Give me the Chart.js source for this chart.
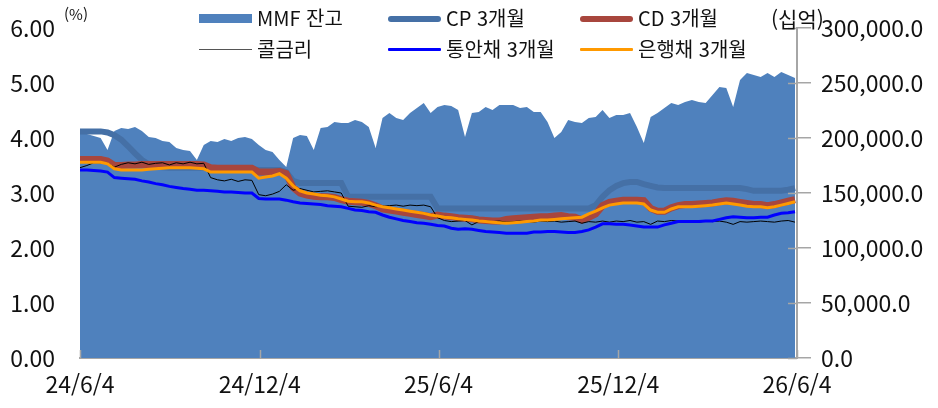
<!DOCTYPE html>
<html lang="ko">
<head>
<meta charset="utf-8">
<script src="https://cdn.jsdelivr.net/npm/chart.js@4.4.1/dist/chart.umd.min.js"></script>
<style>
  html, body { margin: 0; padding: 0; background: #fff; }
  #wrap { position: relative; width: 938px; height: 408px; }
  canvas { position: absolute; left: 0; top: 0; }
  .lg { position: absolute; font-family: 'Noto Sans CJK KR', sans-serif; font-size: 20px; color: #111; line-height: 1; white-space: nowrap; }
  .sw { position: absolute; }
</style>
</head>
<body>
<div id="wrap">
  <canvas id="c" width="938" height="408"></canvas>
  <div id="legend"></div>
  <div class="lg" style="left:64px;top:6px;font-size:15px;">(%)</div>
  <div class="lg" style="left:771px;top:8px;font-size:21px;">(십억)</div>
</div>
<script>
// weekly observations starting 2024-06-04
const startDate = '2024-06-04';
const weeks = 105;

const tickDates = ['2024-06-04', '2024-12-04', '2025-06-04', '2025-12-04', '2026-06-04'];
const tickLabels = ['24/6/4', '24/12/4', '25/6/4', '25/12/4', '26/6/4'];

const seriesNames = ['MMF 잔고', 'CP 3개월', 'CD 3개월', '콜금리', '통안채 3개월', '은행채 3개월'];

// MMF balance (십억)
const mmf = [
  206000, 203600, 201800, 200000, 189100, 206400, 209100, 208200, 210000, 206400,
  200900, 200000, 197300, 196400, 190900, 189100, 188200, 180000, 193600, 197300,
  196400, 199100, 197300, 200000, 200900, 199100, 193600, 189100, 187300, 180000,
  173600, 200000, 202700, 201800, 189100, 209100, 210000, 214500, 213600, 213600,
  216400, 214500, 210000, 190900, 218200, 222700, 218200, 216400, 222700, 227300,
  231800, 222700, 228200, 230000, 229100, 225500, 200900, 222700, 223600, 228200,
  225500, 230000, 230000, 230000, 227300, 228200, 223600, 223600, 214500, 200000,
  205500, 216400, 214500, 213600, 218200, 219100, 225500, 218200, 220900, 220900,
  222700, 210000, 195500, 219100, 222700, 227300, 231800, 230000, 232700, 234500,
  232700, 231800, 239100, 246400, 245500, 228200, 252700, 259100, 257300, 255500,
  259100, 255500, 260000, 257300, 254500
];

// rates (%)
const cp = [
  4.12, 4.12, 4.12, 4.12, 4.10, 4.05, 3.97, 3.85, 3.72, 3.60,
  3.52, 3.48, 3.47, 3.46, 3.46, 3.46, 3.46, 3.46, 3.46, 3.44,
  3.43, 3.43, 3.43, 3.43, 3.43, 3.43, 3.42, 3.42, 3.42, 3.42,
  3.38, 3.22, 3.18, 3.18, 3.18, 3.18, 3.18, 3.18, 3.18, 2.93,
  2.93, 2.93, 2.93, 2.93, 2.93, 2.93, 2.93, 2.93, 2.93, 2.93,
  2.93, 2.93, 2.72, 2.72, 2.72, 2.72, 2.72, 2.72, 2.72, 2.72,
  2.72, 2.72, 2.72, 2.72, 2.72, 2.72, 2.72, 2.72, 2.72, 2.72,
  2.72, 2.72, 2.72, 2.72, 2.72, 2.78, 2.93, 3.05, 3.13, 3.18,
  3.20, 3.20, 3.16, 3.13, 3.10, 3.09, 3.09, 3.09, 3.09, 3.09,
  3.09, 3.09, 3.09, 3.09, 3.09, 3.09, 3.09, 3.07, 3.04, 3.04,
  3.04, 3.04, 3.04, 3.06, 3.09
];

const cd = [
  3.61, 3.61, 3.61, 3.61, 3.58, 3.50, 3.50, 3.51, 3.51, 3.52,
  3.52, 3.52, 3.52, 3.52, 3.52, 3.52, 3.52, 3.52, 3.51, 3.46,
  3.45, 3.45, 3.45, 3.45, 3.45, 3.45, 3.38, 3.38, 3.38, 3.39,
  3.35, 3.10, 3.00, 2.96, 2.94, 2.93, 2.93, 2.92, 2.88, 2.85,
  2.84, 2.83, 2.81, 2.77, 2.71, 2.69, 2.67, 2.65, 2.63, 2.61,
  2.59, 2.57, 2.60, 2.58, 2.57, 2.55, 2.54, 2.53, 2.51, 2.50,
  2.49, 2.49, 2.52, 2.53, 2.54, 2.55, 2.56, 2.57, 2.57, 2.58,
  2.59, 2.57, 2.56, 2.51, 2.56, 2.62, 2.77, 2.83, 2.85, 2.87,
  2.87, 2.87, 2.86, 2.72, 2.67, 2.67, 2.73, 2.77, 2.79, 2.79,
  2.80, 2.81, 2.82, 2.84, 2.86, 2.85, 2.83, 2.81, 2.79, 2.79,
  2.77, 2.79, 2.82, 2.85, 2.88
];

const call = [
  3.46, 3.50, 3.55, 3.55, 3.54, 3.47, 3.52, 3.55, 3.53, 3.56,
  3.52, 3.54, 3.55, 3.51, 3.55, 3.53, 3.56, 3.53, 3.54, 3.28,
  3.24, 3.22, 3.25, 3.21, 3.24, 3.23, 2.97, 2.95, 2.98, 3.03,
  3.15, 3.05, 3.08, 3.05, 3.02, 3.03, 3.04, 3.02, 3.00, 2.76,
  2.75, 2.74, 2.77, 2.75, 2.76, 2.77, 2.78, 2.76, 2.78, 2.77,
  2.78, 2.75, 2.55, 2.50, 2.48, 2.49, 2.50, 2.42, 2.48, 2.49,
  2.48, 2.49, 2.47, 2.48, 2.49, 2.48, 2.47, 2.49, 2.48, 2.49,
  2.47, 2.48, 2.49, 2.45, 2.48, 2.47, 2.49, 2.47, 2.49, 2.48,
  2.50, 2.47, 2.48, 2.43, 2.49, 2.48, 2.50, 2.49, 2.47, 2.48,
  2.47, 2.49, 2.48, 2.49, 2.47, 2.43, 2.48, 2.47, 2.48, 2.49,
  2.48, 2.47, 2.49, 2.50, 2.47
];

const msb = [
  3.42, 3.42, 3.41, 3.40, 3.38, 3.28, 3.27, 3.26, 3.25, 3.22,
  3.20, 3.17, 3.15, 3.12, 3.10, 3.08, 3.07, 3.05, 3.05, 3.04,
  3.03, 3.02, 3.02, 3.01, 3.00, 3.00, 2.90, 2.89, 2.89, 2.89,
  2.87, 2.84, 2.82, 2.81, 2.80, 2.79, 2.77, 2.76, 2.75, 2.72,
  2.69, 2.68, 2.66, 2.65, 2.60, 2.56, 2.53, 2.50, 2.48, 2.46,
  2.45, 2.43, 2.41, 2.40, 2.36, 2.34, 2.35, 2.34, 2.32, 2.30,
  2.29, 2.28, 2.27, 2.27, 2.27, 2.27, 2.29, 2.29, 2.30, 2.30,
  2.29, 2.28, 2.28, 2.30, 2.33, 2.38, 2.44, 2.44, 2.43, 2.43,
  2.42, 2.40, 2.38, 2.38, 2.38, 2.42, 2.45, 2.48, 2.48, 2.48,
  2.48, 2.49, 2.49, 2.52, 2.55, 2.57, 2.56, 2.55, 2.55, 2.56,
  2.56, 2.60, 2.63, 2.64, 2.66
];

const bank = [
  3.56, 3.56, 3.56, 3.56, 3.53, 3.44, 3.42, 3.42, 3.42, 3.42,
  3.43, 3.44, 3.45, 3.46, 3.46, 3.46, 3.46, 3.45, 3.44, 3.38,
  3.38, 3.38, 3.38, 3.38, 3.38, 3.38, 3.27, 3.29, 3.31, 3.35,
  3.27, 3.13, 3.04, 3.00, 2.98, 2.96, 2.95, 2.93, 2.89, 2.85,
  2.84, 2.84, 2.82, 2.78, 2.75, 2.73, 2.71, 2.69, 2.67, 2.65,
  2.63, 2.60, 2.58, 2.56, 2.55, 2.53, 2.52, 2.51, 2.49, 2.48,
  2.47, 2.46, 2.45, 2.46, 2.47, 2.48, 2.49, 2.51, 2.51, 2.52,
  2.53, 2.54, 2.55, 2.56, 2.62, 2.67, 2.73, 2.78, 2.80, 2.82,
  2.82, 2.82, 2.80, 2.69, 2.65, 2.65, 2.71, 2.75, 2.75, 2.75,
  2.76, 2.77, 2.78, 2.80, 2.82, 2.80, 2.78, 2.76, 2.75, 2.75,
  2.73, 2.75, 2.78, 2.81, 2.84
];

const DAY = 86400000;
const t0 = Date.parse(startDate);
const dayOf = s => Math.round((Date.parse(s) - t0) / DAY);
const xs = Array.from({ length: weeks }, (_, i) => i * 7);
const tickDays = tickDates.map(dayOf);
const pts = arr => arr.map((v, i) => ({ x: xs[i], y: v }));

const colors = ['#4f81bd', '#4570a6', '#a8463d', '#000000', '#0000ff', '#ff9900'];

// legend (html)
const legendStyle = [
  { left: 199, top: 14, h: 9, r: 0 },
  { left: 388, top: 16, h: 6, r: 3 },
  { left: 580, top: 16, h: 6, r: 3 },
  { left: 199, top: 49, h: 1, r: 0, c: '#555' },
  { left: 388, top: 48, h: 3, r: 1 },
  { left: 580, top: 48, h: 3, r: 1 }
];
const lg = document.getElementById('legend');
seriesNames.forEach((name, i) => {
  const s = legendStyle[i];
  const sw = document.createElement('div');
  sw.className = 'sw';
  sw.style.cssText = `left:${s.left}px;top:${s.top}px;width:53px;height:${s.h}px;border-radius:${s.r}px;background:${s.c || colors[i]}`;
  lg.appendChild(sw);
  const t = document.createElement('div');
  t.className = 'lg';
  t.textContent = name;
  t.style.left = (s.left + 58) + 'px';
  t.style.top = (s.top + s.h / 2 - 11) + 'px';
  lg.appendChild(t);
});

// small inward tick marks on x axis and right axis
const innerTicks = {
  id: 'innerTicks',
  afterDatasetsDraw(chart) {
    const { ctx, chartArea: a } = chart;
    const x = chart.scales.x, y2 = chart.scales.y2;
    ctx.save();
    ctx.strokeStyle = '#a6a6a6';
    ctx.lineWidth = 1.5;
    x.ticks.forEach(t => {
      const px = Math.round(x.getPixelForValue(t.value)) + 0.5;
      ctx.beginPath(); ctx.moveTo(px, a.bottom); ctx.lineTo(px, a.bottom - 8); ctx.stroke();
    });
    y2.ticks.forEach(t => {
      const py = Math.round(y2.getPixelForValue(t.value)) + 0.5;
      ctx.beginPath(); ctx.moveTo(a.right - 9, py); ctx.lineTo(a.right, py); ctx.stroke();
    });
    ctx.restore();
  }
};

const font = { family: "'Noto Sans CJK KR', sans-serif", size: 23 };

new Chart(document.getElementById('c'), {
  type: 'line',
  data: {
    datasets: [
      { label: seriesNames[0], data: pts(mmf), yAxisID: 'y2', fill: 'origin', backgroundColor: colors[0], borderWidth: 0, pointRadius: 0, order: 10 },
      { label: seriesNames[1], data: pts(cp), yAxisID: 'y', borderColor: colors[1], borderWidth: 6, pointRadius: 0, order: 5 },
      { label: seriesNames[2], data: pts(cd), yAxisID: 'y', borderColor: colors[2], borderWidth: 7, pointRadius: 0, order: 4 },
      { label: seriesNames[3], data: pts(call), yAxisID: 'y', borderColor: colors[3], borderWidth: 1, pointRadius: 0, order: 3 },
      { label: seriesNames[4], data: pts(msb), yAxisID: 'y', borderColor: colors[4], borderWidth: 3, pointRadius: 0, order: 2 },
      { label: seriesNames[5], data: pts(bank), yAxisID: 'y', borderColor: colors[5], borderWidth: 3, pointRadius: 0, order: 1 }
    ]
  },
  options: {
    responsive: false,
    animation: false,
    layout: { padding: { top: 28, left: 0, right: 0, bottom: 0 } },
    plugins: { legend: { display: false }, tooltip: { enabled: false } },
    scales: {
      x: {
        type: 'linear',
        min: 0,
        max: tickDays[tickDays.length - 1],
        afterBuildTicks: s => { s.ticks = tickDays.map(v => ({ value: v })); },
        afterFit: s => { s.height = 50; },
        ticks: { font, color: '#111', padding: 12, maxRotation: 0, autoSkip: false,
                 callback: (v, i) => tickLabels[i] },
        grid: { display: false, drawTicks: false },
        border: { display: true, color: '#a6a6a6', width: 2 }
      },
      y: {
        position: 'left',
        min: 0, max: 6,
        afterFit: s => { s.width = 80; },
        ticks: { stepSize: 1, font, color: '#111', padding: 1, callback: v => v.toFixed(2) },
        grid: { display: false, drawTicks: true, tickLength: 24 },
        border: { display: false }
      },
      y2: {
        position: 'right',
        min: 0, max: 300000,
        afterFit: s => { s.width = 141; },
        ticks: { stepSize: 50000, font, color: '#111', padding: 10,
                 callback: v => v.toLocaleString('en-US') + '.0' },
        grid: { drawOnChartArea: false, drawTicks: true, tickLength: 14, color: '#a6a6a6', lineWidth: 1.5 },
        border: { display: true, color: '#a6a6a6', width: 2 }
      }
    }
  },
  plugins: [innerTicks]
});
</script>
</body>
</html>
